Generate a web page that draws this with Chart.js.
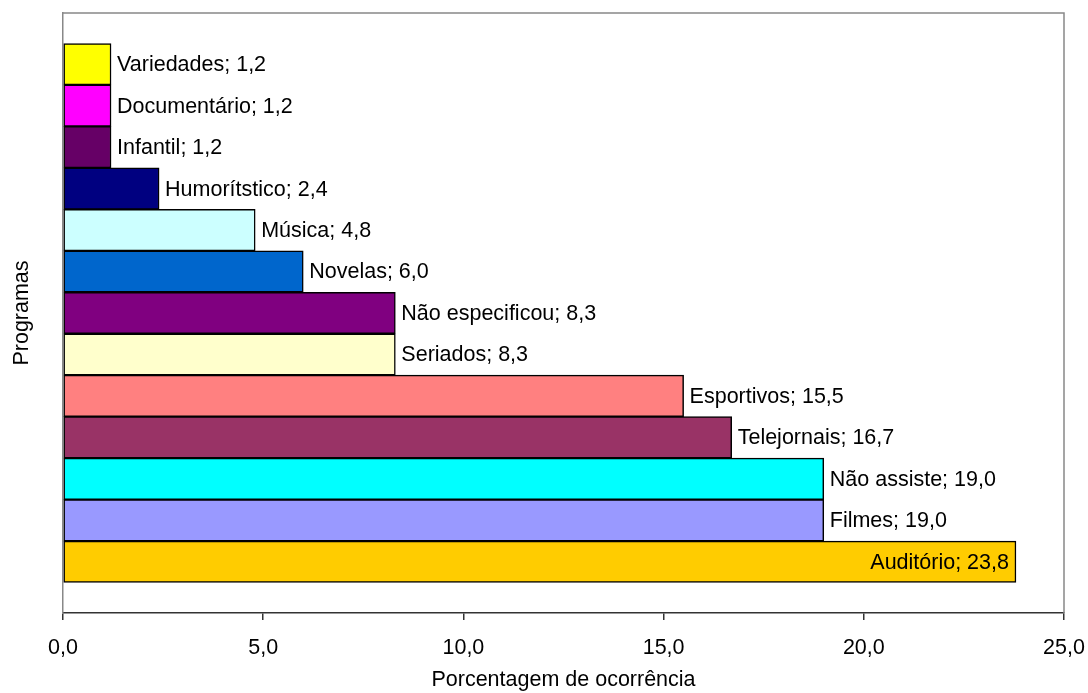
<!DOCTYPE html>
<html>
<head>
<meta charset="utf-8">
<script src="https://cdn.jsdelivr.net/npm/chart.js@4/dist/chart.umd.min.js"></script>
<style>
  html, body { margin: 0; padding: 0; background: #fff; }
  #wrap { width: 1088px; height: 693px; }
</style>
</head>
<body>
<div id="wrap"><canvas id="c" width="1088" height="693"></canvas></div>
<script>
// Programs, listed top to bottom
const categories = ['Variedades', 'Documentário', 'Infantil', 'Humorítstico', 'Música', 'Novelas',
  'Não especificou', 'Seriados', 'Esportivos', 'Telejornais', 'Não assiste', 'Filmes', 'Auditório'];
const percentages = [1.2, 1.2, 1.2, 2.4, 4.8, 6.0, 8.3, 8.3, 15.5, 16.7, 19.0, 19.0, 23.8];
const barColors = ['#FFFF00', '#FF00FF', '#660066', '#000080', '#CCFFFF', '#0066CC',
  '#800080', '#FFFFCC', '#FF8080', '#993366', '#00FFFF', '#9999FF', '#FFCC00'];
const xTicks = [0, 5, 10, 15, 20, 25];

const FONT = 'Liberation Sans, Arial, sans-serif';
const FSIZE = 21.5;
const fmt = v => v.toFixed(1).replace('.', ',');

// Frame around the plot area (top and right edges)
const framePlugin = {
  id: 'frame',
  beforeDatasetsDraw(chart) {
    const { ctx, chartArea: a } = chart;
    ctx.save();
    ctx.strokeStyle = '#888888';
    ctx.lineWidth = 1.5;
    ctx.beginPath();
    ctx.moveTo(a.left, a.top);
    ctx.lineTo(a.right, a.top);
    ctx.lineTo(a.right, a.bottom);
    ctx.stroke();
    ctx.restore();
  }
};

// "Name; value" labels beside each bar; the longest bar carries its label inside
const barLabelPlugin = {
  id: 'barLabels',
  afterDatasetsDraw(chart) {
    const { ctx } = chart;
    const meta = chart.getDatasetMeta(0);
    const maxVal = Math.max(...percentages);
    ctx.save();
    ctx.font = FSIZE + 'px ' + FONT;
    ctx.fillStyle = '#000';
    ctx.textBaseline = 'middle';
    meta.data.forEach((bar, i) => {
      const text = categories[i] + '; ' + fmt(percentages[i]);
      if (percentages[i] === maxVal) {
        ctx.textAlign = 'right';
        ctx.fillText(text, bar.x - 7, bar.y + 1);
      } else {
        ctx.textAlign = 'left';
        ctx.fillText(text, bar.x + 6, bar.y + 1);
      }
    });
    ctx.restore();
  }
};

new Chart(document.getElementById('c'), {
  type: 'bar',
  data: {
    datasets: [{
      data: percentages.map((v, i) => ({ x: v, y: i })),
      backgroundColor: barColors,
      borderColor: '#000',
      borderWidth: 1.5,
      borderSkipped: false,
      categoryPercentage: 1,
      barPercentage: 1
    }]
  },
  options: {
    indexAxis: 'y',
    responsive: false,
    animation: false,
    layout: { padding: { top: 13, right: 24, left: 0, bottom: 0 } },
    plugins: { legend: { display: false }, tooltip: { enabled: false } },
    scales: {
      x: {
        type: 'linear',
        min: 0,
        max: 25,
        afterBuildTicks: s => { s.ticks = xTicks.map(v => ({ value: v })); },
        afterFit: s => { s.height = 80; s.paddingRight = 0; s.paddingLeft = 0; },
        ticks: {
          color: '#000',
          font: { family: FONT, size: FSIZE },
          padding: 15,
          callback: v => fmt(v)
        },
        grid: { display: true, drawOnChartArea: false, drawTicks: true, tickLength: 7, color: '#333', lineWidth: 1.5 },
        border: { display: true, color: '#333', width: 1.5 },
        title: {
          display: true,
          text: 'Porcentagem de ocorrência',
          color: '#000',
          font: { family: FONT, size: FSIZE },
          padding: { top: 0, bottom: 0 }
        }
      },
      y: {
        type: 'linear',
        reverse: true,
        offset: false,
        min: -1.235,
        max: 13.235,
        afterBuildTicks: s => { s.ticks = categories.map((c, i) => ({ value: i })); },
        afterFit: s => { s.width = 63; },
        ticks: { display: false },
        grid: { display: false, offset: false },
        border: { display: true, color: '#888888', width: 1.5 },
        title: {
          display: true,
          text: 'Programas',
          color: '#000',
          font: { family: FONT, size: FSIZE },
          padding: { top: 9, bottom: 0 }
        }
      }
    }
  },
  plugins: [framePlugin, barLabelPlugin]
});
</script>
</body>
</html>
